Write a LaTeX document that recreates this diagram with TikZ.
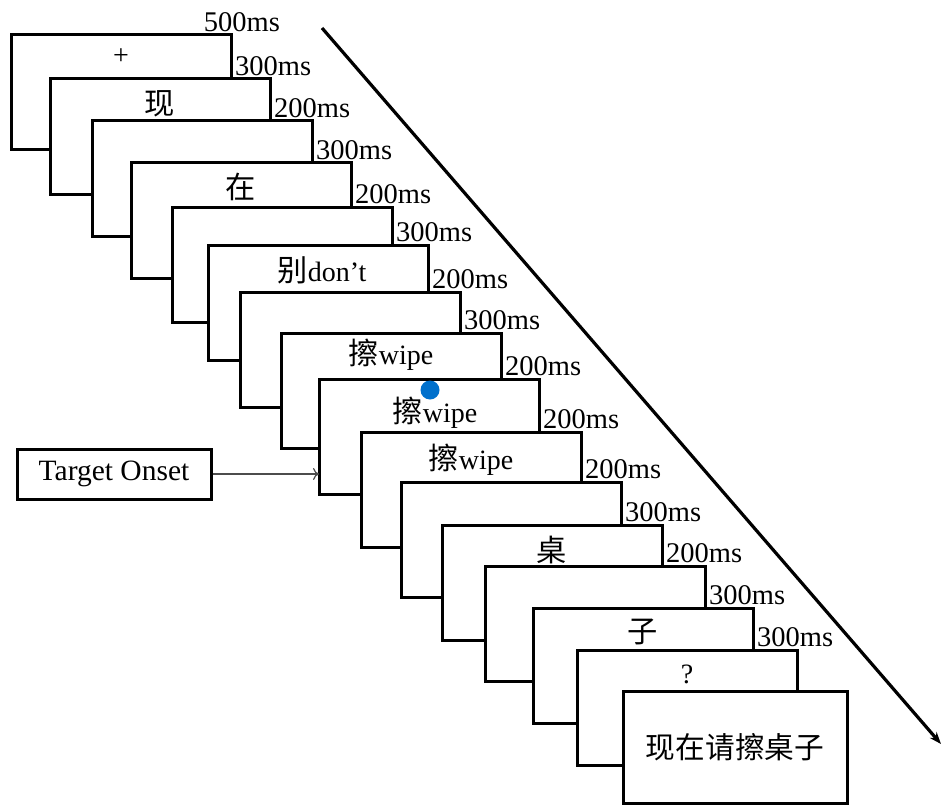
\documentclass[tikz,border=0pt]{standalone}
\usepackage{fontspec}
\setmainfont{Liberation Serif}
\newfontfamily\cjk[Scale=1.08]{Noto Sans CJK SC}
\usetikzlibrary{arrows.meta, positioning, calc}
\definecolor{cueblue}{RGB}{0,112,204}

\begin{document}
\begin{tikzpicture}[
            x=1pt, y=-1pt,
            screen/.style={rectangle, draw=black, line width=3pt, fill=white, minimum width=220pt, minimum height=115pt, outer sep=0pt, anchor=north west},
            word/.style={font=\fontsize{28}{32}\selectfont, inner sep=0pt},
            timing/.style={font=\fontsize{28.5}{32}\selectfont, anchor=south west, inner xsep=4pt, inner ysep=3pt},
            timeline/.style={-{Stealth[length=12pt,width=9pt]}, line width=3.2pt},
            pointer/.style={-{To[length=6pt,width=12pt]}, line width=1.2pt, black!70}
        ]
            \useasboundingbox (0,0) rectangle (941,805);

% Time axis
            \coordinate (t_start) at (322,28);
            \coordinate (t_end) at (941,744);
            \draw[timeline] (t_start) -- (t_end);

% Trial screens
            \node[screen] (scr_fix) at (11,35) {};
            \node[screen] (scr_xian) at (50,79) {};
            \node[screen] (scr_blank1) at (92,121) {};
            \node[screen] (scr_zai) at (131,163) {};
            \node[screen] (scr_blank2) at (172,207) {};
            \node[screen] (scr_bie) at (208,245) {};
            \node[screen] (scr_blank3) at (240,292) {};
            \node[screen] (scr_ca1) at (281,333) {};
            \node[screen] (scr_ca2) at (319,379) {};
            \node[screen] (scr_ca3) at (361,432) {};
            \node[screen] (scr_blank4) at (401,482) {};
            \node[screen] (scr_zhuo) at (442,525) {};
            \node[screen] (scr_blank5) at (485,566) {};
            \node[screen] (scr_zi) at (533,608) {};
            \node[screen] (scr_probe) at (577,650) {};
            \node[screen, minimum width=224pt, minimum height=112pt] (scr_resp) at (623,691) {};

% Screen contents
            \node[word] (w_fix) at ([yshift=-22pt]scr_fix.north) {+};
            \node[word] (w_xian) at ([yshift=-25pt]scr_xian.north) {\cjk 现};
            \node[word] (w_zai) at ([yshift=-24pt]scr_zai.north) {\cjk 在};
            \node[word] (w_bie) at ([xshift=4pt, yshift=-25pt]scr_bie.north) {{\cjk 别}don’t};
            \node[word] (w_ca1) at ([yshift=-22pt]scr_ca1.north) {{\cjk 擦}wipe};
            \node[word] (w_ca2) at ([xshift=6pt, yshift=-34pt]scr_ca2.north) {{\cjk 擦}wipe};
            \node[word] (w_ca3) at ([yshift=-28pt]scr_ca3.north) {{\cjk 擦}wipe};
            \node[word] (w_zhuo) at ([yshift=-25pt]scr_zhuo.north) {\cjk 桌};
            \node[word] (w_zi) at ([yshift=-24pt]scr_zi.north) {\cjk 子};
            \node[word] (w_probe) at ([yshift=-24pt]scr_probe.north) {?};
            \node[word, font=\fontsize{27.5}{32}\selectfont] (w_resp) at (scr_resp.center) {\cjk 现在请擦桌子};

% Target cue
            \node[circle, fill=cueblue, minimum size=19pt, inner sep=0pt] (cue) at (430,390) {};

% Durations
            \node[timing, anchor=south] (d_start) at ([xshift=11pt]scr_fix.north east) {500ms};
            \node[timing] (d_fix) at (scr_fix.north east |- scr_xian.north) {300ms};
            \node[timing] (d_xian) at (scr_xian.north east |- scr_blank1.north) {200ms};
            \node[timing] (d_blank1) at (scr_blank1.north east |- scr_zai.north) {300ms};
            \node[timing] (d_zai) at (scr_zai.north east |- scr_blank2.north) {200ms};
            \node[timing] (d_blank2) at (scr_blank2.north east |- scr_bie.north) {300ms};
            \node[timing] (d_bie) at (scr_bie.north east |- scr_blank3.north) {200ms};
            \node[timing] (d_blank3) at (scr_blank3.north east |- scr_ca1.north) {300ms};
            \node[timing] (d_ca1) at (scr_ca1.north east |- scr_ca2.north) {200ms};
            \node[timing] (d_ca2) at (scr_ca2.north east |- scr_ca3.north) {200ms};
            \node[timing] (d_ca3) at (scr_ca3.north east |- scr_blank4.north) {200ms};
            \node[timing] (d_blank4) at (scr_blank4.north east |- scr_zhuo.north) {300ms};
            \node[timing] (d_zhuo) at (scr_zhuo.north east |- scr_blank5.north) {200ms};
            \node[timing] (d_blank5) at (scr_blank5.north east |- scr_zi.north) {300ms};
            \node[timing] (d_zi) at (scr_zi.north east |- scr_probe.north) {300ms};

% Onset marker
            \node[draw, line width=3pt, minimum width=194pt, minimum height=50pt, font=\fontsize{29.5}{32}\selectfont] (onset) at (114,474) {Target Onset};
            \draw[pointer] (onset.east) -- (onset -| scr_ca2.west);

        \end{tikzpicture}
\end{document}
